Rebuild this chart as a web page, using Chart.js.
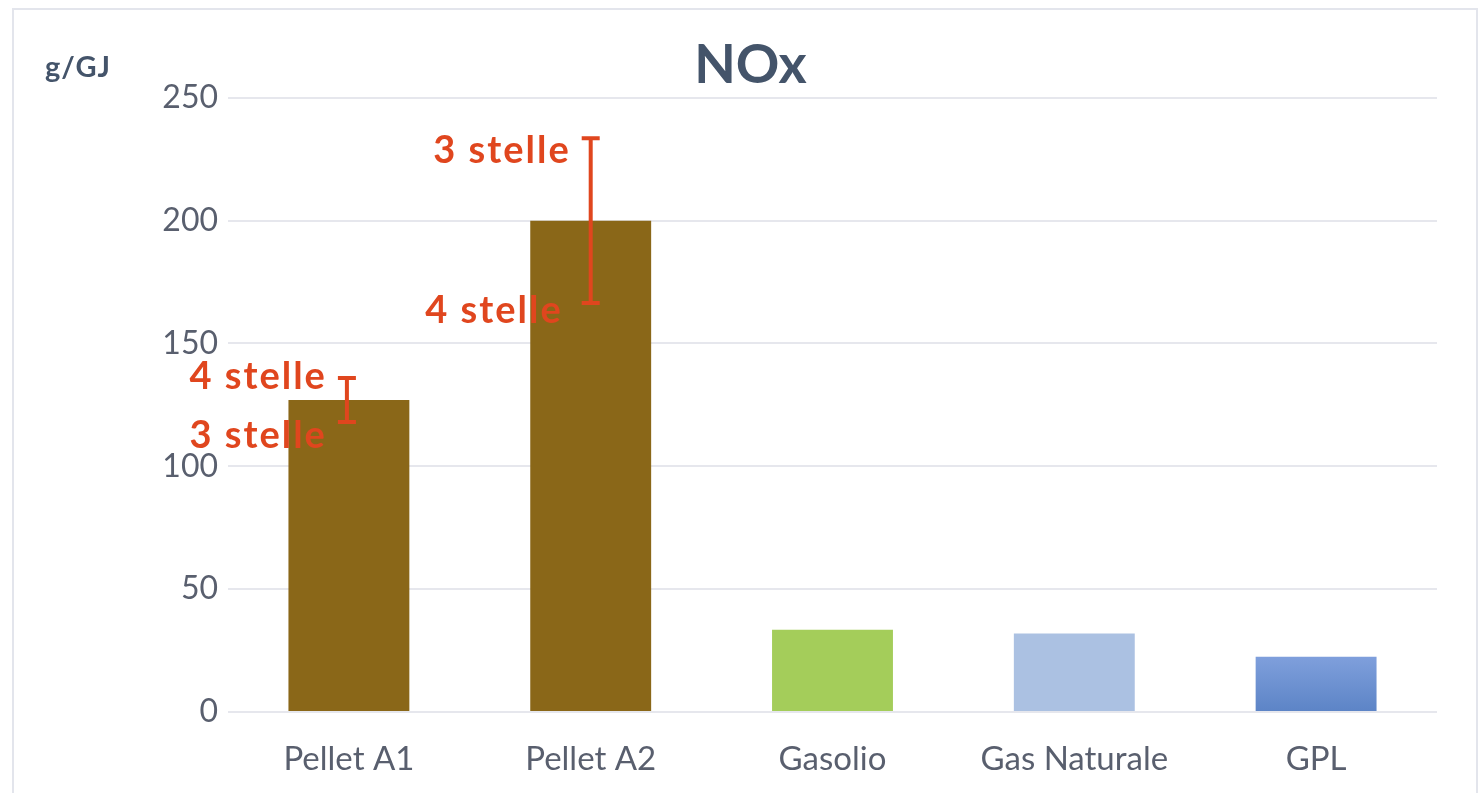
<!DOCTYPE html>
<html>
<head>
<meta charset="utf-8">
<script src="https://cdn.jsdelivr.net/npm/chart.js@4.4.1/dist/chart.umd.min.js"></script>
<style>
  html, body { margin: 0; padding: 0; background: #ffffff; }
  #wrap { width: 1478px; height: 793px; position: relative; }
</style>
</head>
<body>
<div id="wrap"><canvas id="c" width="1478" height="793"></canvas></div>
<script>
// ---- data ----
const categories = ["Pellet A1", "Pellet A2", "Gasolio", "Gas Naturale", "GPL"];
const noxValues = [127, 200, 33.5, 32, 22.5];
const errorLow = [118, 166.5, null, null, null];
const errorHigh = [136, 233.5, null, null, null];
const labelAtHigh = ["4 stelle", "3 stelle", null, null, null];
const labelAtLow = ["3 stelle", "4 stelle", null, null, null];
const yTicks = [0, 50, 100, 150, 200, 250];
const unitLabel = "g/GJ";
const chartTitle = "NOx";

// ---- styles ----
const FONT = "Lato, 'Open Sans', sans-serif";
const TEXT_DARK = "#44546A";
const TEXT_GRAY = "#595f6e";
const GRID = "#E6E7ED";
const ERR = "#E0461E";
const solidColors = ["#8A6718", "#8A6718", "#A4CD5A", "#ABC1E2", null];

function barColor(ctx) {
  const i = ctx.dataIndex;
  if (solidColors[i]) return solidColors[i];
  const chart = ctx.chart;
  const area = chart.chartArea;
  if (!area) return "#6F91D4";
  const y = chart.scales.y;
  const top = y.getPixelForValue(noxValues[i]);
  const bottom = y.getPixelForValue(0);
  const g = chart.ctx.createLinearGradient(0, top, 0, bottom);
  g.addColorStop(0, "#7F9FDC");
  g.addColorStop(1, "#5C84C6");
  return g;
}

const framePlugin = {
  id: "frame",
  beforeDraw(chart) {
    const c = chart.ctx;
    c.save();
    c.fillStyle = "#ffffff";
    c.fillRect(0, 0, chart.width, chart.height);
    c.strokeStyle = "#E3E5EC";
    c.lineWidth = 2;
    c.strokeRect(13, 9, chart.width - 14, chart.height + 10);
    c.restore();
  }
};

const extrasPlugin = {
  id: "extras",
  afterDatasetsDraw(chart) {
    const c = chart.ctx;
    const x = chart.scales.x, y = chart.scales.y;
    c.save();
    // unit label
    c.fillStyle = TEXT_DARK;
    c.font = "bold 29px " + FONT;
    c.textAlign = "left";
    c.textBaseline = "alphabetic";
    if ("letterSpacing" in c) c.letterSpacing = "1px";
    c.fillText(unitLabel, 45, 77);
    // error bars
    c.strokeStyle = ERR;
    c.lineWidth = 4;
    c.fillStyle = ERR;
    c.font = "bold 38px " + FONT;
    if ("letterSpacing" in c) c.letterSpacing = "2px";
    c.textAlign = "right";
    c.textBaseline = "middle";
    for (let i = 0; i < categories.length; i++) {
      if (errorLow[i] == null) continue;
      const px = x.getPixelForValue(i) - (i === 0 ? 2 : 0);
      const pHi = y.getPixelForValue(errorHigh[i]);
      const pLo = y.getPixelForValue(errorLow[i]);
      c.beginPath();
      c.moveTo(px, pHi); c.lineTo(px, pLo);
      c.moveTo(px - 9, pHi); c.lineTo(px + 9, pHi);
      c.moveTo(px - 9, pLo); c.lineTo(px + 9, pLo);
      c.stroke();
      const hiOff = i === 0 ? -1 : 12;
      const loOff = i === 0 ? 14 : 8;
      const hiX = px - 20;
      const loX = i === 0 ? px - 20 : px - 28;
      c.fillText(labelAtHigh[i], hiX, pHi + hiOff);
      c.fillText(labelAtLow[i], loX, pLo + loOff);
    }
    c.restore();
  }
};

new Chart(document.getElementById("c"), {
  type: "bar",
  data: {
    labels: categories,
    datasets: [{
      label: chartTitle,
      data: noxValues,
      backgroundColor: barColor,
      borderWidth: 0,
      categoryPercentage: 1.0,
      barPercentage: 0.5
    }]
  },
  options: {
    responsive: false,
    animation: false,
    devicePixelRatio: 1,
    layout: { padding: { left: 64, right: 41, top: 0, bottom: 0 } },
    plugins: {
      legend: { display: false },
      tooltip: { enabled: false },
      title: {
        display: true,
        text: chartTitle,
        color: TEXT_DARK,
        font: { family: FONT, size: 54, weight: "bold", lineHeight: 1.2 },
        padding: { top: 33, bottom: 0 }
      }
    },
    scales: {
      x: {
        grid: { display: false, drawTicks: false },
        border: { display: false },
        ticks: { color: TEXT_GRAY, font: { family: FONT, size: 33 }, padding: 28 },
        afterFit(s) { s.height = 81; }
      },
      y: {
        min: 0, max: 250,
        afterBuildTicks(s) { s.ticks = yTicks.map(v => ({ value: v })); },
        grid: { color: GRID, lineWidth: 2, drawTicks: false },
        border: { display: false },
        ticks: { color: TEXT_GRAY, font: { family: FONT, size: 32 }, padding: 10 },
        afterFit(s) { s.width = 164; }
      }
    }
  },
  plugins: [framePlugin, extrasPlugin]
});
</script>
</body>
</html>
